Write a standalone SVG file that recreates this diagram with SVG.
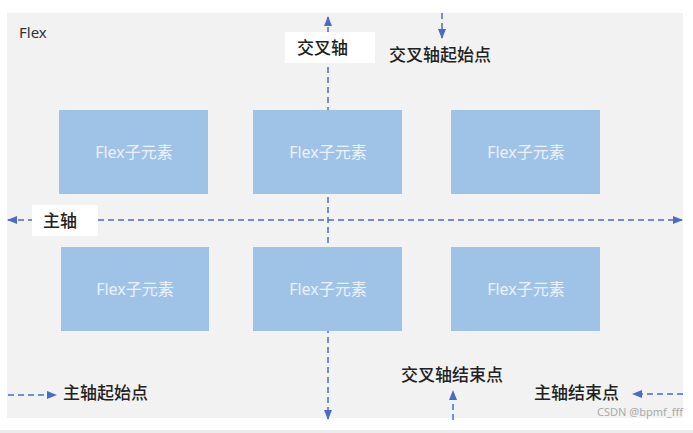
<svg xmlns="http://www.w3.org/2000/svg" width="693" height="433" viewBox="0 0 693 433">
<defs>
<style>
.panel{fill:#f2f2f2}
.box{fill:#9fc3e7}
.btxt{font-family:"Noto Sans","Noto Sans CJK SC",sans-serif;font-size:16px;fill:#e9f1fb;text-anchor:middle}
.lbl{font-family:"Noto Sans CJK SC","Noto Sans",sans-serif;font-size:17px;fill:#222;font-weight:500}
.ax{stroke:#4a6cc2;stroke-width:1.5;stroke-dasharray:6 4;fill:none}
.lblbg{fill:#ffffff}
</style>
<marker id="ah" markerUnits="userSpaceOnUse" markerWidth="10" markerHeight="10" viewBox="0 0 10 10" refX="9" refY="5" orient="auto-start-reverse">
<path d="M0,1 L10,5 L0,9 Z" fill="#4a6cc2"/>
</marker>
</defs>
<rect x="0" y="0" width="693" height="433" fill="#ffffff"/>
<rect x="0" y="430" width="693" height="3" fill="#ececec"/>
<rect class="panel" x="7" y="13" width="676" height="405"/>
<text x="19" y="38" style="font-family:'Noto Sans',sans-serif;font-size:15px;fill:#333">Flex</text>

<g id="connectors">
<line class="ax" x1="328" y1="17" x2="328" y2="419" marker-start="url(#ah)" marker-end="url(#ah)"/>
<line class="ax" x1="8" y1="220" x2="682" y2="220" marker-start="url(#ah)" marker-end="url(#ah)"/>
<line class="ax" x1="442" y1="13" x2="442" y2="38" marker-end="url(#ah)"/>
<line class="ax" x1="8" y1="395" x2="56" y2="395" marker-end="url(#ah)"/>
<line class="ax" x1="453" y1="420" x2="453" y2="391" marker-end="url(#ah)"/>
<line class="ax" x1="683" y1="394" x2="633" y2="394" marker-end="url(#ah)"/>
</g>

<g id="item1"><rect class="box" x="59" y="110" width="149" height="84"/><text class="btxt" x="134" y="158">Flex子元素</text></g>
<g id="item2"><rect class="box" x="253" y="110" width="149" height="84"/><text class="btxt" x="328" y="158">Flex子元素</text></g>
<g id="item3"><rect class="box" x="451" y="110" width="149" height="84"/><text class="btxt" x="526" y="158">Flex子元素</text></g>
<g id="item4"><rect class="box" x="61" y="247" width="148" height="84"/><text class="btxt" x="135" y="295">Flex子元素</text></g>
<g id="item5"><rect class="box" x="253" y="247" width="149" height="84"/><text class="btxt" x="328" y="295">Flex子元素</text></g>
<g id="item6"><rect class="box" x="451" y="247" width="149" height="84"/><text class="btxt" x="526" y="295">Flex子元素</text></g>

<g id="cross-axis-label"><rect class="lblbg" x="285" y="32" width="90" height="31"/><text class="lbl" x="297" y="54">交叉轴</text></g>
<g id="main-axis-label"><rect class="lblbg" x="32" y="205" width="66" height="31"/><text class="lbl" x="43" y="227">主轴</text></g>
<g id="cross-start"><text class="lbl" x="389" y="61">交叉轴起始点</text></g>
<g id="main-start"><text class="lbl" x="63" y="399">主轴起始点</text></g>
<g id="cross-end"><text class="lbl" x="401" y="381">交叉轴结束点</text></g>
<g id="main-end"><text class="lbl" x="534" y="399">主轴结束点</text></g>
<text x="683" y="416" text-anchor="end" style="font-family:'Noto Sans',sans-serif;font-size:11px;fill:#aaaaaa">CSDN @bpmf_fff</text>
</svg>
